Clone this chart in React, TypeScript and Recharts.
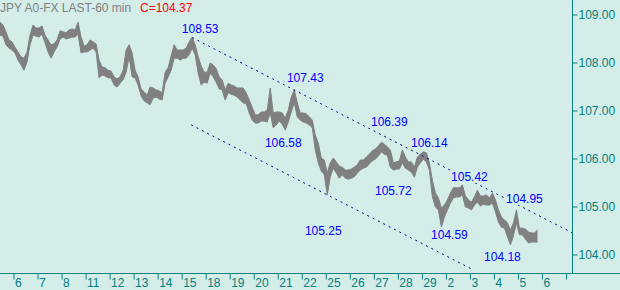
import { ComposedChart, Area, XAxis, YAxis, ReferenceLine, ReferenceDot } from 'recharts';

// hourly USD/JPY, one sample every 3 hours (high / low)
const hourStep = 3;

const highs = [
  108.85, 108.79, 108.65, 108.48, 108.44, 108.33, 108.23, 108.13, 108.10, 108.23,
  108.58, 108.79, 108.73, 108.73, 108.77, 108.58, 108.48, 108.38, 108.40, 108.48,
  108.67, 108.65, 108.63, 108.69, 108.71, 108.69, 108.85, 108.54, 108.35, 108.38,
  108.48, 108.44, 108.40, 108.06, 107.92, 107.90, 107.85, 107.83, 107.71, 107.67,
  107.71, 107.85, 108.27, 108.38, 108.21, 107.85, 107.71, 107.46, 107.40, 107.33,
  107.50, 107.48, 107.44, 107.42, 107.38, 107.81, 107.90, 108.15, 108.38, 108.27,
  108.27, 108.27, 108.31, 108.44, 108.54, 108.38, 108.13, 107.94, 107.81, 107.81,
  108.00, 107.96, 107.88, 107.71, 107.65, 107.44, 107.58, 107.54, 107.52, 107.48,
  107.48, 107.48, 107.38, 107.23, 107.08, 106.92, 106.92, 106.98, 106.98, 107.02,
  107.48, 106.96, 106.98, 106.98, 106.96, 106.85, 107.02, 107.29, 107.44, 107.17,
  106.96, 106.96, 106.94, 106.88, 106.81, 106.50, 106.33, 106.02, 105.98, 105.71,
  105.92, 106.02, 105.94, 105.85, 105.83, 105.77, 105.77, 105.79, 105.83, 105.88,
  105.98, 105.98, 106.04, 106.10, 106.17, 106.21, 106.27, 106.35, 106.31, 106.25,
  106.19, 105.92, 105.94, 105.96, 106.19, 106.04, 105.94, 105.94, 105.83, 106.04,
  106.10, 106.15, 106.13, 105.92, 105.56, 105.29, 105.19, 104.98, 105.04, 105.15,
  105.29, 105.40, 105.40, 105.40, 105.46, 105.23, 105.15, 105.10, 105.21, 105.35,
  105.23, 105.23, 105.25, 105.19, 105.29, 105.15, 104.94, 104.79, 104.73, 104.67,
  104.52, 104.67, 104.94, 104.56, 104.56, 104.54, 104.48, 104.46, 104.46, 104.52,
];

const lows = [
  108.58, 108.56, 108.38, 108.31, 108.27, 108.21, 108.06, 107.96, 107.85, 108.02,
  108.38, 108.58, 108.56, 108.54, 108.60, 108.42, 108.23, 108.10, 108.23, 108.33,
  108.50, 108.54, 108.50, 108.52, 108.54, 108.54, 108.60, 108.21, 108.23, 108.23,
  108.27, 108.31, 108.23, 107.69, 107.75, 107.73, 107.69, 107.69, 107.54, 107.50,
  107.58, 107.65, 107.81, 108.13, 107.71, 107.69, 107.54, 107.31, 107.21, 107.17,
  107.13, 107.27, 107.29, 107.25, 107.23, 107.58, 107.71, 107.85, 108.10, 108.10,
  108.06, 108.10, 108.10, 108.17, 108.31, 108.17, 107.79, 107.54, 107.60, 107.58,
  107.79, 107.71, 107.60, 107.46, 107.44, 107.23, 107.38, 107.35, 107.33, 107.29,
  107.23, 107.17, 107.15, 106.96, 106.81, 106.75, 106.75, 106.79, 106.79, 106.77,
  106.96, 106.65, 106.71, 106.79, 106.73, 106.60, 106.77, 106.98, 107.17, 106.88,
  106.81, 106.77, 106.75, 106.71, 106.65, 106.19, 105.92, 105.75, 105.67, 105.25,
  105.63, 105.81, 105.71, 105.60, 105.67, 105.60, 105.58, 105.60, 105.63, 105.71,
  105.77, 105.81, 105.83, 105.90, 105.96, 106.00, 106.06, 106.15, 106.10, 106.08,
  105.83, 105.77, 105.79, 105.79, 105.92, 105.81, 105.77, 105.73, 105.62, 105.83,
  105.92, 106.00, 105.94, 105.77, 105.21, 105.00, 104.94, 104.58, 104.79, 104.94,
  105.08, 105.19, 105.21, 105.21, 105.25, 105.00, 104.98, 104.94, 105.04, 105.10,
  105.02, 105.06, 105.04, 105.04, 105.08, 104.90, 104.69, 104.58, 104.56, 104.38,
  104.21, 104.40, 104.67, 104.42, 104.42, 104.33, 104.25, 104.27, 104.27, 104.27,
];

const dayLabels = ['6', '7', '8', '11', '12', '13', '14', '15', '18', '19', '20', '21', '22',
  '25', '26', '27', '28', '29', '2', '3', '4', '5', '6', ''];
const firstDayHour = 14;
const hoursPerDay = 24;

const priceTicks = [104, 105, 106, 107, 108, 109];

// channel lines, [hour, price]
const upperChannel = [[192, 108.53], [572, 104.46]];
const lowerChannel = [[191, 106.71], [473, 103.69]];

// price call-outs: hour, price where the text sits, text
const callouts: [number, number, string][] = [
  [200, 108.71, '108.53'],
  [305, 107.69, '107.43'],
  [283, 106.35, '106.58'],
  [389, 106.77, '106.39'],
  [429, 106.35, '106.14'],
  [393, 105.35, '105.72'],
  [469, 105.63, '105.42'],
  [323, 104.5, '105.25'],
  [524, 105.17, '104.95'],
  [449, 104.42, '104.59'],
  [502, 103.96, '104.18'],
];

const lastClose = '104.37';

const teal = '#008080';
const bg = '#d4ede9';
const font = '"Liberation Sans", Arial, sans-serif';

const data = highs.map((h, i) => ({ hour: i * hourStep, range: [lows[i], h] }));
const dayTicks = dayLabels.map((_, i) => firstDayHour + i * hoursPerDay);

function DayTick(props: any) {
  const { x, y, payload } = props;
  const idx = dayTicks.indexOf(payload.value);
  return (
    <text x={x + 1} y={y} dy="0.62em" fill={teal} fontSize={12} fontFamily={font}>
      {idx >= 0 ? dayLabels[idx] : ''}
    </text>
  );
}

function Callout(props: any) {
  const { viewBox, value } = props;
  const cx = viewBox.x + viewBox.width / 2;
  const cy = viewBox.y + viewBox.height / 2;
  return (
    <g>
      <rect x={cx - 18} y={cy - 6} width={36} height={12} fill={bg} />
      <text x={cx} y={cy} dy="0.36em" textAnchor="middle" fill="#0000ff" fontSize={12} fontFamily={font}>
        {value}
      </text>
    </g>
  );
}

export default function App() {
  return (
    <div style={{ position: 'absolute', left: 0, top: 0, width: 620, height: 290, background: bg, fontFamily: font }}>
      <ComposedChart width={620} height={290} data={data} margin={{ top: 0, right: 0, bottom: 0, left: 0 }}>
        <XAxis
          dataKey="hour"
          type="number"
          domain={[0, 572]}
          ticks={dayTicks}
          interval={0}
          height={16.5}
          axisLine={{ stroke: teal }}
          tickLine={{ stroke: teal }}
          tickSize={6}
          tickMargin={0}
          tick={<DayTick />}
          allowDataOverflow
        />
        <YAxis
          orientation="right"
          width={47.5}
          domain={[103.615, 109.3125]}
          ticks={priceTicks}
          interval={0}
          allowDataOverflow
          axisLine={{ stroke: teal }}
          tickLine={{ stroke: teal }}
          tickSize={5}
          tickMargin={1}
          tick={{ fill: teal, fontSize: 12, fontFamily: font }}
          tickFormatter={(v: number) => v.toFixed(2)}
        />
        <Area
          dataKey="range"
          type="linear"
          stroke="#808080"
          strokeWidth={1}
          fill="#808080"
          fillOpacity={1}
          dot={false}
          activeDot={false}
          isAnimationActive={false}
        />
        <ReferenceLine
          segment={upperChannel.map(([x, y]) => ({ x, y }))}
          stroke="#000080"
          strokeDasharray="2 4"
        />
        <ReferenceLine
          segment={lowerChannel.map(([x, y]) => ({ x, y }))}
          stroke="#000080"
          strokeDasharray="2 4"
        />
        {callouts.map(([h, p, t]) => (
          <ReferenceDot
            key={t}
            x={h}
            y={p}
            r={0}
            fill="none"
            stroke="none"
            label={{ value: t, content: (lp: any) => <Callout {...lp} /> }}
          />
        ))}
      </ComposedChart>
      <div style={{ position: 'absolute', left: 572, top: 273, width: 48, height: 1, background: teal }} />
      <div style={{ position: 'absolute', left: 0, top: 1, fontSize: 12, color: '#808080', whiteSpace: 'nowrap' }}>
        JPY A0-FX LAST-60 min
      </div>
      <div style={{ position: 'absolute', left: 140, top: 1, fontSize: 12, color: '#ff0000', whiteSpace: 'nowrap' }}>
        C={lastClose}
      </div>
    </div>
  );
}
